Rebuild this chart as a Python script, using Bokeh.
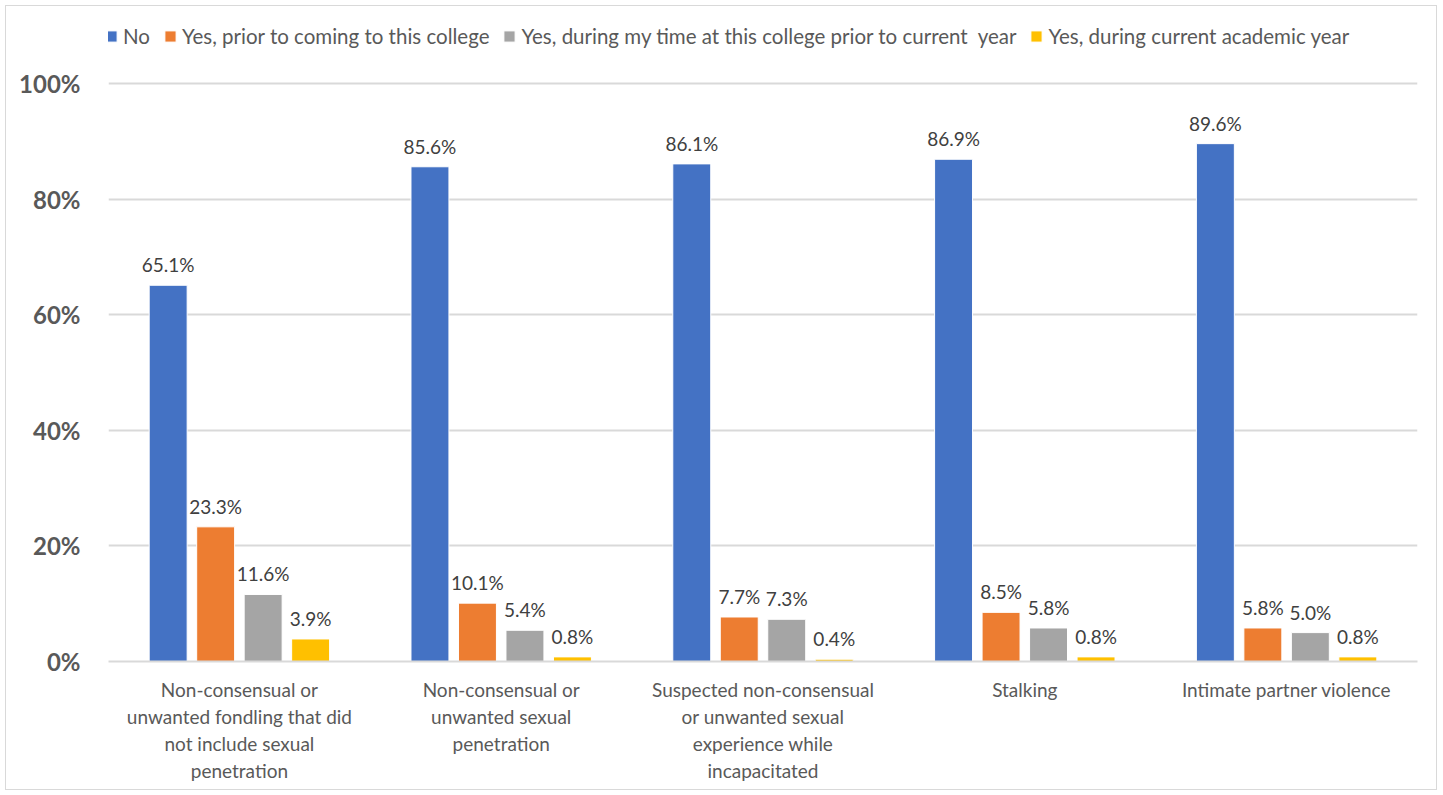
from bokeh.plotting import figure
from bokeh.models import (ColumnDataSource, FactorRange, Legend, LegendItem,
                          PrintfTickFormatter, FixedTicker)
from bokeh.transform import dodge
from bokeh.core.properties import value
from bokeh.embed import file_html
from bokeh.resources import INLINE

categories = [
    "Non-consensual or\nunwanted fondling that did\nnot include sexual\npenetration",
    "Non-consensual or\nunwanted sexual\npenetration",
    "Suspected non-consensual\nor unwanted sexual\nexperience while\nincapacitated",
    "Stalking",
    "Intimate partner violence",
]
series_names = [
    "No",
    "Yes, prior to coming to this college",
    "Yes, during my time at this college prior to current  year",
    "Yes, during current academic year",
]
no_vals = [65.1, 85.6, 86.1, 86.9, 89.6]
prior_vals = [23.3, 10.1, 7.7, 8.5, 5.8]
during_vals = [11.6, 5.4, 7.3, 5.8, 5.0]
current_vals = [3.9, 0.8, 0.4, 0.8, 0.8]
y_ticks = [0, 20, 40, 60, 80, 100]

colors = ["#4472C4", "#ED7D31", "#A5A5A5", "#FFC000"]
series_vals = [no_vals, prior_vals, during_vals, current_vals]

FONT = "Lato"
TXT = "#595959"

# frame spans from just below the top border to the axis line; the extra
# room above 100% holds the legend
p = figure(x_range=FactorRange(factors=categories, range_padding=0),
           y_range=(0, 111.6), width=1432, height=785,
           output_backend="svg", toolbar_location=None,
           min_border_left=102, min_border_right=21,
           min_border_top=10, min_border_bottom=130)
p.x_range.range_padding = 0
p.outline_line_color = None
p.styles = {"border": "1px solid #d9d9d9", "box-sizing": "border-box",
            "margin": "5px 0 0 5px"}

step = 0.1814
bw = 0.145
offsets = [-1.5 * step, -0.5 * step, 0.5 * step, 1.5 * step]
items = []
for name, vals, col, off in zip(series_names, series_vals, colors, offsets):
    src = ColumnDataSource(dict(cat=categories, val=vals,
                                lab=[f"{v:.1f}%" for v in vals]))
    r = p.vbar(x=dodge("cat", off, range=p.x_range), top="val", bottom=0,
               width=bw, source=src, fill_color=col, line_color="white",
               line_width=1)
    p.text(x=dodge("cat", off, range=p.x_range), y="val", text="lab",
           source=src, text_align="center", text_baseline="bottom",
           y_offset=-9, text_font=value(FONT), text_font_size="19px",
           text_color="#404040")
    items.append(LegendItem(label=name, renderers=[r]))

legend = Legend(items=items, orientation="horizontal", location=(-4, 613),
                glyph_width=14, glyph_height=14, label_standoff=5, spacing=13,
                padding=0, margin=0, border_line_color=None,
                background_fill_alpha=0, label_text_font=FONT,
                label_text_font_size="20.5px", label_text_color=TXT)
p.add_layout(legend, "center")

p.yaxis.ticker = FixedTicker(ticks=y_ticks)
p.yaxis.formatter = PrintfTickFormatter(format="%d%%")
p.yaxis.axis_line_color = None
p.yaxis.major_tick_line_color = None
p.yaxis.minor_tick_line_color = None
p.yaxis.major_label_text_font = FONT
p.yaxis.major_label_text_font_style = "bold"
p.yaxis.major_label_text_font_size = "24px"
p.yaxis.major_label_text_color = TXT
p.yaxis.major_label_standoff = 22

p.xaxis.axis_line_color = "#d9d9d9"
p.xaxis.axis_line_width = 2
p.xaxis.major_tick_line_color = None
p.xaxis.minor_tick_line_color = None
p.xaxis.major_label_text_font = FONT
p.xaxis.major_label_text_font_size = "19px"
p.xaxis.major_label_text_color = TXT
p.xaxis.major_label_standoff = 10
p.xaxis.major_label_text_line_height = 1.18

p.xgrid.grid_line_color = None
p.ygrid.grid_line_color = "#d9d9d9"
p.ygrid.grid_line_width = 2

with open("out.html", "w") as f:
    f.write(file_html(p, INLINE))
